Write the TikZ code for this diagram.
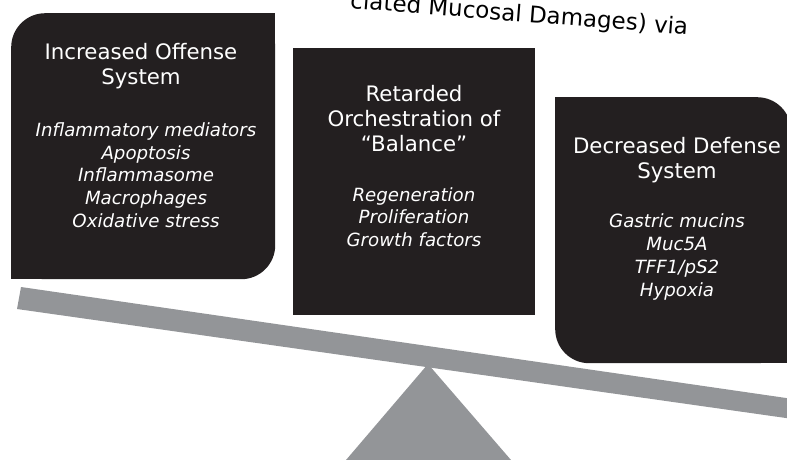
\documentclass[tikz,border=0pt]{standalone}
\usepackage{fontspec}
\setmainfont{DejaVu Sans}
\definecolor{boxblack}{RGB}{35,31,32}
\definecolor{beamgray}{RGB}{147,149,152}
\tikzset{panel/.style = {fill=boxblack, rounded corners=34pt, inner sep=0pt},
         boxtitle/.style = {text=white, align=center, inner sep=0pt, font=\fontsize{21.3}{25}\selectfont},
         boxitems/.style = {text=white, align=center, inner sep=0pt, font=\fontsize{18.2}{22.7}\selectfont\itshape}}

\begin{document}
\begin{tikzpicture}[x=1pt,y=-1pt]
\useasboundingbox (0,0) rectangle (787,459);
\clip (0,0) rectangle (787,459);
\node[rotate=-4.5, anchor=base east, font=\fontsize{23}{27}\selectfont] (caption) at (691,35) {ciated Mucosal Damages) via};
\fill[beamgray] (21,287) -- (800,400) -- (800,420) -- (17,309) -- cycle;
\fill[beamgray] (428,364) -- (511,460) -- (346,460) -- cycle;
\node[panel, minimum width=264pt, minimum height=266pt, anchor=north west] (offense) at (11,13) {};
\fill[boxblack] (offense.north east) rectangle ++(-40,40);
\fill[boxblack] (offense.south west) rectangle ++(40,-40);
\node[panel, rounded corners=0pt, minimum width=242pt, minimum height=267pt, anchor=north west] (balance) at (293,48) {};
\node[panel, minimum width=236pt, minimum height=266pt, anchor=north west] (defense) at (555,97) {};
\fill[boxblack] (defense.north west) rectangle ++(40,40);
\fill[boxblack] (defense.south east) rectangle ++(-40,-40);
\node[boxtitle] (offense title) at (141,66) {Increased Offense\\System};
\node[boxitems] (offense items) at (146,175) {Inflammatory mediators\\Apoptosis\\Inflammasome\\Macrophages\\Oxidative stress};
\node[boxtitle] (balance title) at (414,119) {Retarded\\Orchestration of\\“Balance”};
\node[boxitems] (balance items) at (414,217) {Regeneration\\Proliferation\\Growth factors};
\node[boxtitle] (defense title) at (677,160) {Decreased Defense\\System};
\node[boxitems] (defense items) at (677,257) {Gastric mucins\\Muc5A\\TFF1/pS2\\Hypoxia};
\end{tikzpicture}
\end{document}
